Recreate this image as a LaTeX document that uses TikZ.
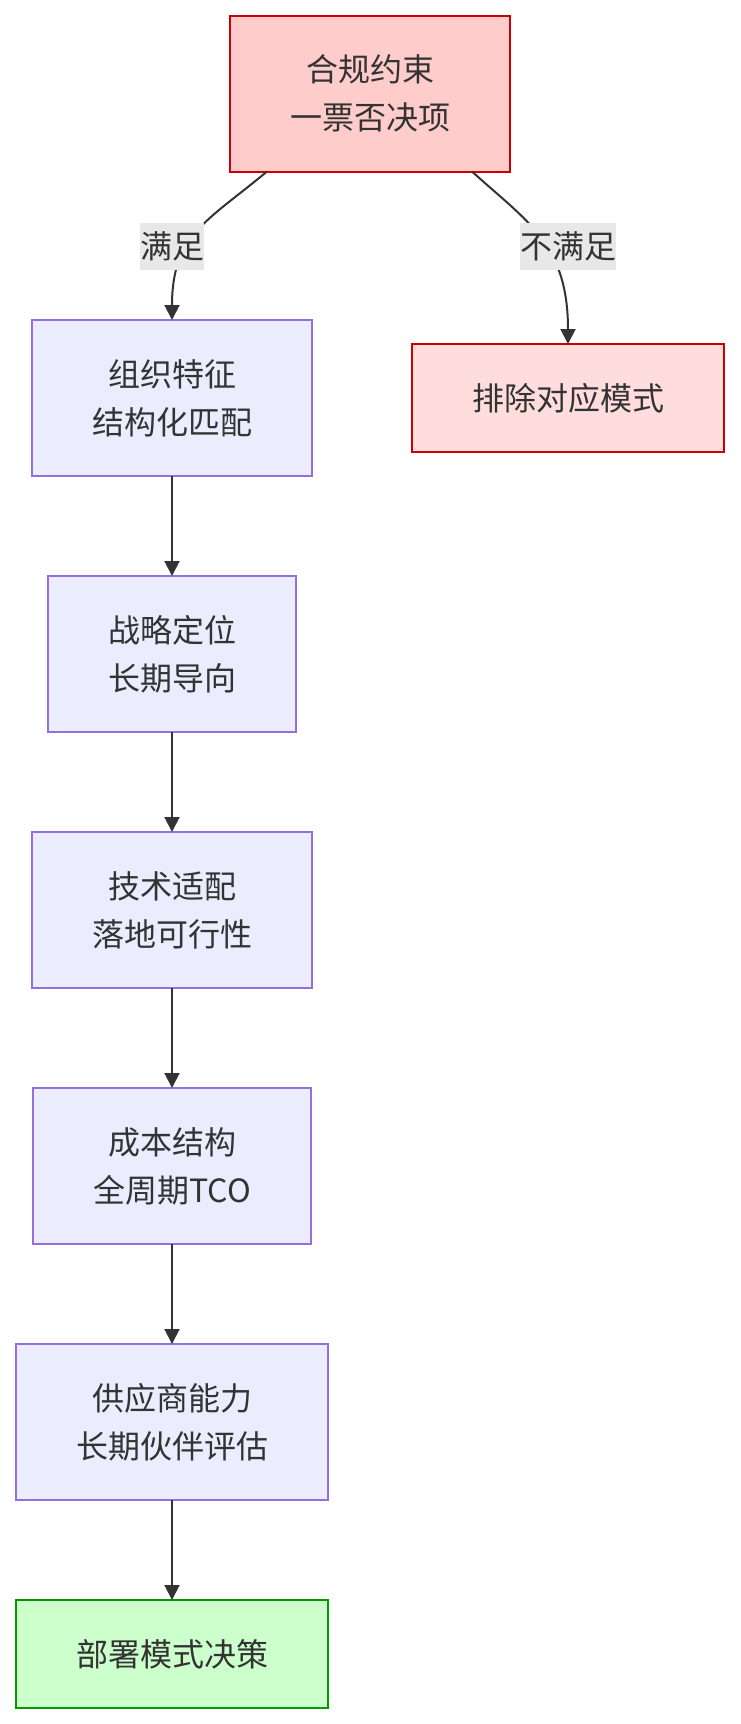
\documentclass[tikz,border=0pt]{standalone}
\usepackage{fontspec}
\setmainfont{Noto Sans CJK SC}
\usepackage{tikz}
\usetikzlibrary{positioning, arrows.meta}
\usepackage{xcolor}
\definecolor{txtgray}{HTML}{333333}
\definecolor{procfill}{HTML}{ECECFF}
\definecolor{procline}{HTML}{9370DB}
\definecolor{vetofill}{HTML}{FFCCCC}
\definecolor{rejfill}{HTML}{FFDDDD}
\definecolor{redline}{HTML}{CC0000}
\definecolor{okfill}{HTML}{CCFFCC}
\definecolor{okline}{HTML}{009900}
\definecolor{lblfill}{HTML}{E8E8E8}

\begin{document}
\begin{tikzpicture}[x=1pt, y=-1pt, node distance=100pt]
% Define styles
\tikzstyle{box} = [rectangle, draw, line width=2pt, outer sep=0pt, inner xsep=60pt, inner ysep=0pt, align=center, text=txtgray, font=\fontsize{32pt}{48pt}\selectfont]
\tikzstyle{proc} = [box, minimum height=156pt, draw=procline, fill=procfill]
\tikzstyle{veto} = [box, minimum height=156pt, draw=redline, fill=vetofill]
\tikzstyle{reject} = [box, minimum height=108pt, draw=redline, fill=rejfill]
\tikzstyle{decision} = [box, minimum height=108pt, draw=okline, fill=okfill]
\tikzstyle{edgelabel} = [fill=lblfill, inner sep=0pt, minimum height=47pt, text=txtgray, font=\fontsize{32pt}{48pt}\selectfont]
\tikzstyle{arrow} = [draw=txtgray, line width=2pt, -{Triangle[length=15pt, width=15pt]}]

\useasboundingbox (0,0) rectangle (740,1724);

% Compliance gate
\node (veto) [veto] at (370,93.5) {合规约束\\一票否决项};

% Main chain
\node (org) [proc] at (172,398) {组织特征\\结构化匹配};
\node (reject) [reject, right=of org] {排除对应模式};
\node (strategy) [proc, below=of org] {战略定位\\长期导向};
\node (tech) [proc, below=of strategy] {技术适配\\落地可行性};
\node (cost) [proc, below=of tech] {成本结构\\全周期TCO};
\node (vendor) [proc, below=of cost] {供应商能力\\长期伙伴评估};
\node (decision) [decision, below=of vendor] {部署模式决策};

% Gate arrows
\draw [arrow] ([xshift=-103pt]veto.south) .. controls +(-60,50) and +(0,-85) .. (org.north);
\draw [arrow] ([xshift=102pt]veto.south) .. controls +(55,50) and +(0,-100) .. (reject.north);
\node (yes) [edgelabel] at (172,246) {满足};
\node (no) [edgelabel] at (568,246) {不满足};

% Chain arrows
\draw [arrow] (org) -- (strategy);
\draw [arrow] (strategy) -- (tech);
\draw [arrow] (tech) -- (cost);
\draw [arrow] (cost) -- (vendor);
\draw [arrow] (vendor) -- (decision);

\end{tikzpicture}
\end{document}
